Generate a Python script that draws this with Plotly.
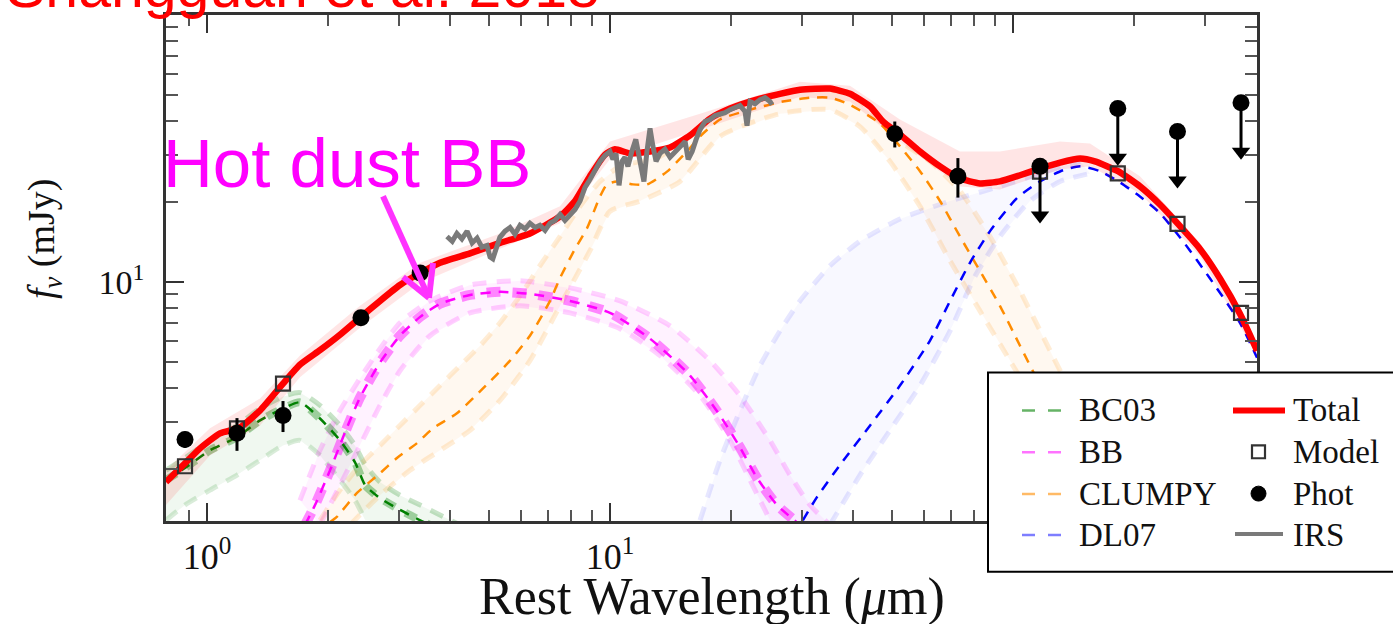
import plotly.graph_objects as go

# ---------------- data (wavelength in micron, flux density in mJy) ----------------
# Stellar component (BC03): best fit and spread of realizations
bc03_wl = [0.791, 0.882, 1.017, 1.187, 1.354, 1.544, 1.701, 1.907, 2.138, 2.33, 2.47, 2.687, 3.012, 3.38, 3.786]
bc03_f = [1.81, 2.01, 2.34, 2.62, 3.03, 3.36, 3.54, 3.08, 2.55, 2.11, 1.73, 1.55, 1.40, 1.28, 1.18]
bc03_hi_wl = [0.791, 0.882, 1.017, 1.187, 1.354, 1.544, 1.701, 1.907, 2.138, 2.33, 2.47, 2.687, 3.012, 3.38, 3.786, 4.245]
bc03_hi_f = [1.97, 2.19, 2.55, 2.90, 3.36, 3.72, 3.85, 3.45, 2.90, 2.44, 2.06, 1.78, 1.59, 1.46, 1.34, 1.23]
bc03_lo_wl = [0.791, 0.882, 1.017, 1.187, 1.354, 1.544, 1.701, 1.907, 2.138, 2.33, 2.47]
bc03_lo_f = [1.28, 1.46, 1.66, 1.89, 2.15, 2.44, 2.55, 2.24, 1.81, 1.52, 1.28]

# Hot dust blackbody (BB)
bb_wl = [1.751, 1.854, 2.020, 2.200, 2.397, 2.687, 3.012, 3.38, 3.786, 4.494, 5.334, 6.33,
         7.958, 10.0, 12.57, 15.80, 18.75, 21.02, 23.2, 25.97, 29.61]
bb_f = [1.23, 1.46, 1.97, 2.73, 3.69, 4.99, 6.29, 7.40, 8.28, 8.94, 9.18, 9.02,
        8.49, 7.66, 6.13, 4.46, 3.16, 2.40, 1.84, 1.46, 1.23]
bb_hi_wl = [1.701, 1.907, 2.138, 2.397, 2.687, 3.012, 3.575, 4.494, 5.98, 7.958, 10.59, 14.09,
            17.71, 21.02, 24.95, 27.97, 31.36, 35.15]
bb_hi_f = [1.52, 2.34, 3.30, 4.35, 5.62, 7.03, 8.49, 9.74, 10.1, 9.50, 8.49, 6.85,
           5.07, 3.75, 2.55, 1.89, 1.46, 1.23]
bb_lo_wl = [1.907, 2.138, 2.397, 2.687, 3.012, 3.575, 4.494, 5.98, 7.958, 10.59, 13.31, 16.73,
            19.86, 22.26, 24.95]
bb_lo_f = [1.23, 1.73, 2.44, 3.45, 4.65, 6.29, 7.66, 8.14, 7.66, 6.68, 5.30, 3.75,
           2.55, 1.81, 1.28]

# Clumpy torus (CLUMPY)
clumpy_wl = [2.020, 2.102, 2.356, 2.687, 2.96, 3.32, 3.64, 4.17, 4.84, 5.648, 6.33, 7.10, 7.516,
             8.19, 8.77, 9.447, 9.83, 10.41, 11.40, 12.36, 13.85, 15.52, 16.73, 18.75, 22.26,
             26.87, 31.36, 35.15, 39.4, 46.77, 52.43, 58.78, 65.9, 73.87, 82.8, 92.8, 104.1,
             116.7, 130.8]
clumpy_f = [1.26, 1.32, 1.62, 1.92, 2.19, 2.49, 2.83, 3.22, 3.99, 5.07, 6.29, 8.49, 10.35,
            13.3, 15.9, 20.9, 23.2, 23.8, 23.2, 23.2, 25.9, 30.8, 35.1, 40.6, 44.2,
            47.4, 49.0, 49.0, 46.1, 39.2, 32.2, 26.0, 20.1, 14.8, 11.0, 8.14, 5.77,
            4.09, 2.78]
clumpy_hi_wl = [1.907, 2.138, 2.397, 2.687, 3.012, 3.38, 3.786, 4.245, 4.759, 5.334, 5.98, 6.70,
                7.516, 8.426, 9.447, 10.59, 13.31, 16.73, 22.26, 29.61, 39.4, 52.43, 62.2,
                73.87, 87.7, 104.1, 123.6, 142.5]
clumpy_hi_f = [1.28, 1.66, 2.06, 2.44, 2.90, 3.45, 4.09, 4.86, 5.77, 7.03, 8.87, 11.5,
               14.8, 19.2, 23.8, 27.1, 29.5, 38.2, 47.4, 52.5, 50.7, 33.6, 28.3,
               21.9, 14.8, 9.26, 5.53, 3.60]
clumpy_lo_wl = [2.264, 2.687, 3.189, 3.786, 4.494, 5.334, 6.33, 7.516, 8.92, 10.0, 11.87, 14.92,
                18.75, 26.42, 35.15, 41.72, 49.5, 58.78, 69.8, 82.8, 98.3, 116.7]
clumpy_lo_f = [1.23, 1.59, 1.97, 2.34, 2.78, 3.60, 5.07, 8.14, 13.1, 18.4, 20.1, 23.8,
               35.1, 42.7, 44.2, 38.2, 28.3, 19.2, 12.0, 7.79, 5.07, 3.30]

# Cold dust (DL07)
dl07_wl = [30.1, 32.6, 37.2, 44.2, 52.43, 62.2, 69.8, 78.2, 87.7, 102.3, 116.7, 133.1, 146.7,
           164.4, 184.3, 206.6, 231.6, 264.2, 308.3, 365.8, 403.3]
dl07_f = [1.28, 1.56, 2.06, 2.90, 4.09, 6.02, 8.49, 11.8, 15.5, 20.6, 23.8, 26.2, 27.1,
          26.0, 23.6, 20.9, 18.1, 14.2, 10.3, 7.03, 5.20]
dl07_hi_wl = [16.73, 18.75, 21.02, 23.57, 26.42, 29.61, 35.15, 41.72, 52.43, 69.8, 92.8, 116.7, 146.7]
dl07_hi_f = [1.28, 2.15, 3.30, 4.86, 6.56, 8.49, 11.5, 14.2, 17.2, 20.1, 22.8, 25.5, 28.3]
dl07_lo_wl = [35.15, 41.72, 49.5, 58.78, 69.8, 80.5, 92.8, 110.2, 130.8, 155.3]
dl07_lo_f = [1.23, 1.89, 2.78, 4.09, 6.56, 10.5, 14.8, 20.1, 23.8, 25.5]

# Total model
total_wl = [0.791, 0.882, 0.961, 1.077, 1.207, 1.354, 1.544, 1.701, 1.907, 2.138, 2.397, 2.687,
            3.012, 3.38, 3.786, 4.494, 5.334, 6.33, 7.516, 8.19, 8.92, 9.72, 10.29, 11.21,
            12.57, 14.09, 15.80, 17.71, 19.86, 23.57, 29.61, 35.15, 39.4, 44.2, 47.6, 52.43,
            58.78, 65.9, 73.87, 82.8, 92.8, 104.1, 116.7, 130.8, 146.7, 159.7, 182.2, 206.6,
            231.6, 256.7, 291.1, 326.3, 365.8, 403.3]
total_f = [1.78, 2.09, 2.38, 2.71, 2.85, 3.30, 4.16, 4.90, 5.55, 6.34, 7.34, 8.49,
           9.74, 10.8, 11.8, 12.8, 14.0, 15.2, 17.6, 20.1, 24.9, 30.0, 31.4, 30.3,
           30.8, 31.9, 35.4, 40.9, 44.6, 48.6, 52.5, 53.0, 50.7, 45.4, 39.9, 35.7,
           30.8, 27.1, 24.4, 23.4, 23.8, 25.1, 26.6, 28.0, 29.0, 28.3, 26.0, 22.8,
           19.5, 16.5, 13.3, 10.3, 7.60, 5.53]
total_band_wl = [0.791, 1.017, 1.354, 1.701, 2.397, 3.38, 5.334, 7.516, 10.0, 16.73, 29.61, 39.4,
                 52.43, 73.87, 92.8, 130.8, 155.3, 206.6, 291.1, 403.3]
total_hi_f = [1.97, 2.83, 3.66, 5.30, 8.14, 11.8, 15.2, 19.2, 33.6, 42.7, 56.2, 54.3,
              40.6, 30.8, 30.8, 33.6, 33.0, 24.9, 14.0, 5.77]
total_lo_f = [1.46, 2.24, 2.90, 4.40, 6.73, 9.92, 13.3, 16.6, 28.8, 37.2, 49.4, 47.4,
              33.6, 22.8, 22.2, 26.4, 27.1, 21.5, 12.5, 5.30]

# Spitzer IRS spectrum
irs_wl = [3.94, 4.06, 4.17, 4.29, 4.42, 4.55, 4.68, 4.81, 4.95, 5.04, 5.12, 5.21, 5.33, 5.49,
          5.65, 5.81, 5.98, 6.16, 6.33, 6.52, 6.70, 6.90, 7.10, 7.30, 7.52, 7.73, 7.96, 8.19,
          8.43, 8.67, 8.92, 9.18, 9.45, 9.72, 10.0, 10.17, 10.35, 10.53, 10.71, 10.89, 11.08,
          11.33, 11.59, 11.87, 12.14, 12.35, 12.57, 12.78, 13.01, 13.31, 13.69, 14.09, 14.50,
          14.92, 15.36, 15.63, 15.99, 16.36, 16.73, 17.22, 17.71, 18.23, 18.75, 19.30, 19.86,
          20.43, 21.02, 21.63, 21.88, 22.26, 22.90, 23.57, 24.25, 24.95, 25.24]
irs_f = [14.8, 14.2, 15.2, 14.5, 15.5, 14.0, 14.6, 13.5, 13.7, 12.4, 12.2, 13.3, 14.7, 15.5,
         16.0, 15.1, 16.3, 15.8, 16.6, 16.0, 16.3, 15.6, 16.6, 17.0, 17.9, 17.0, 17.8, 18.7,
         20.1, 22.6, 24.2, 26.4, 28.3, 29.8, 30.8, 28.8, 30.3, 23.0, 28.3, 29.3, 27.1,
         30.8, 34.2, 28.3, 23.8, 30.8, 37.6, 32.2, 28.3, 30.3, 31.4, 29.3, 30.8,
         32.2, 33.6, 28.8, 30.8, 34.2, 37.2, 39.9, 40.6, 42.0, 42.4, 43.1, 44.2,
         45.0, 45.8, 43.5, 38.5, 47.4, 46.5, 48.2, 49.0, 47.4, 46.1]

# Model photometry (open squares)
model_wl = [0.882, 1.187, 1.544, 116.7, 182.0, 256.0, 368.0]
model_f = [2.04, 2.83, 4.16, 25.9, 25.5, 16.5, 7.66]

# Observed photometry (detections) with errors
phot_wl = [0.882, 1.187, 1.544, 2.41, 3.38, 50.9, 73.0]
phot_f = [2.57, 2.71, 3.16, 7.34, 10.8, 35.9, 24.9]
phot_err = [0.18, 0.38, 0.42, 0.30, 0.50, 4.0, 4.2]

# Upper limits
ul_wl = [116.7, 182.0, 256.0, 368.0]
ul_f = [27.1, 44.6, 36.6, 46.9]

x_tickvals = [1, 10, 100]
x_ticktext = ["10<sup>0</sup>", "10<sup>1</sup>", " "]
x_minor = [0.9, 2, 3, 4, 5, 6, 7, 8, 9, 20, 30, 40, 50, 60, 70, 80, 90, 200, 300]
y_tickvals = [10, 100]
y_ticktext = ["10<sup>1</sup>", " "]
y_minor = [2, 3, 4, 5, 6, 7, 8, 9, 20, 30, 40, 50, 60, 70, 80, 90]

# ---------------- layout geometry ----------------
W, H = 1393, 624
ML, MR, MT, MB = 166, 136, 13, 103
PW, PH = W - ML - MR, H - MT - MB
SERIF = "Liberation Serif, Times New Roman, serif"
SANS = "Liberation Sans, Arial, sans-serif"


def px(x):
    return (x - ML) / PW


def py(y):
    return (H - MB - y) / PH


fig = go.Figure()


def band(xh, yh, xl, yl, color):
    fig.add_trace(go.Scatter(x=list(xh) + list(xl)[::-1], y=list(yh) + list(yl)[::-1],
                             mode="lines", fill="toself", fillcolor=color,
                             line=dict(width=0), hoverinfo="skip", showlegend=False))


def dashed(x, y, color, width, dash):
    fig.add_trace(go.Scatter(x=x, y=y, mode="lines", showlegend=False, hoverinfo="skip",
                             line=dict(color=color, width=width, dash=dash, shape="spline",
                                       smoothing=0.6)))


# realization spreads
band(bc03_hi_wl, bc03_hi_f, bc03_lo_wl, bc03_lo_f, "rgba(0,128,0,0.06)")
band(bb_hi_wl, bb_hi_f, bb_lo_wl, bb_lo_f, "rgba(255,0,255,0.05)")
band(clumpy_hi_wl, clumpy_hi_f, clumpy_lo_wl, clumpy_lo_f, "rgba(255,140,0,0.06)")
band(dl07_hi_wl, dl07_hi_f, dl07_lo_wl, dl07_lo_f, "rgba(60,60,255,0.035)")

for xs, ys, c in [(bc03_hi_wl, bc03_hi_f, "rgba(0,128,0,0.22)"), (bc03_lo_wl, bc03_lo_f, "rgba(0,128,0,0.15)"),
                  (bb_hi_wl, bb_hi_f, "rgba(255,0,255,0.18)"), (bb_lo_wl, bb_lo_f, "rgba(255,0,255,0.18)"),
                  (clumpy_hi_wl, clumpy_hi_f, "rgba(255,140,0,0.16)"), (clumpy_lo_wl, clumpy_lo_f, "rgba(255,140,0,0.16)"),
                  (dl07_hi_wl, dl07_hi_f, "rgba(60,60,255,0.12)"), (dl07_lo_wl, dl07_lo_f, "rgba(60,60,255,0.12)")]:
    dashed(xs, ys, c, 5, "14px,10px")

# thick overlapping realizations of the hot dust and stellar components
dashed(bb_wl, bb_f, "rgba(255,0,255,0.45)", 10, "14px,12px")
dashed(bc03_wl, bc03_f, "rgba(0,128,0,0.35)", 8, "12px,12px")

# best-fit components
dashed(bc03_wl, bc03_f, "#008000", 2.5, "10px,8px")
dashed(bb_wl, bb_f, "#ff00ff", 2.5, "10px,8px")
dashed(clumpy_wl, clumpy_f, "#ff8c00", 2.5, "10px,8px")
dashed(dl07_wl, dl07_f, "#0000ff", 2.5, "10px,8px")

# total model with its spread
band(total_band_wl, total_hi_f, total_band_wl, total_lo_f, "rgba(255,0,0,0.10)")
fig.add_trace(go.Scatter(x=total_wl, y=total_f, mode="lines", showlegend=False,
                         line=dict(color="#ff0000", width=6.5, shape="spline", smoothing=0.5)))

# IRS spectrum
fig.add_trace(go.Scatter(x=irs_wl, y=irs_f, mode="lines", showlegend=False,
                         line=dict(color="#7a7a7a", width=5)))

# model photometry
fig.add_trace(go.Scatter(x=model_wl, y=model_f, mode="markers", showlegend=False,
                         marker=dict(symbol="square-open", size=14, color="#333333",
                                     line=dict(color="#333333", width=2.2))))

# detections
fig.add_trace(go.Scatter(x=phot_wl, y=phot_f, mode="markers", showlegend=False,
                         marker=dict(symbol="circle", size=17, color="black"),
                         error_y=dict(type="data", array=phot_err, color="black",
                                      thickness=3, width=0)))

# upper limits: dot, shaft and arrow head
ul_tip = [f * 0.655 for f in ul_f]
fig.add_trace(go.Scatter(x=ul_wl, y=ul_f, mode="markers", showlegend=False,
                         marker=dict(symbol="circle", size=17, color="black"),
                         error_y=dict(type="data", symmetric=False, array=[0] * len(ul_f),
                                      arrayminus=[f - t for f, t in zip(ul_f, ul_tip)],
                                      color="black", thickness=3, width=0)))
fig.add_trace(go.Scatter(x=ul_wl, y=ul_tip, mode="markers", showlegend=False,
                         marker=dict(symbol="triangle-down", size=16, color="black")))

# ---------------- legend drawn as a boxed panel ----------------
shapes = []
shapes.append(dict(type="rect", xref="paper", yref="paper", x0=px(988), x1=px(1400),
                   y0=py(572), y1=py(372), fillcolor="white",
                   line=dict(color="black", width=2), layer="above"))
leg_rows = [410, 452, 494, 535]
leg_left = [("BC03", "rgba(0,128,0,0.6)"), ("BB", "rgba(255,0,255,0.55)"),
            ("CLUMPY", "rgba(255,140,0,0.6)"), ("DL07", "rgba(40,40,255,0.6)")]
annotations = []
for (name, col), ry in zip(leg_left, leg_rows):
    shapes.append(dict(type="line", xref="paper", yref="paper", x0=px(1022), x1=px(1062),
                       y0=py(ry), y1=py(ry), line=dict(color=col, width=2.5, dash="13px,13px"),
                       layer="above"))
    annotations.append(dict(text=name, x=px(1077), y=py(ry), xref="paper", yref="paper",
                            xanchor="left", yanchor="middle", showarrow=False,
                            font=dict(family=SERIF, size=33, color="#111111")))
shapes.append(dict(type="line", xref="paper", yref="paper", x0=px(1233), x1=px(1285),
                   y0=py(410), y1=py(410), line=dict(color="#ff0000", width=6), layer="above"))
shapes.append(dict(type="rect", xref="paper", yref="paper", x0=px(1252), x1=px(1265),
                   y0=py(458), y1=py(445), line=dict(color="#333333", width=2.2), layer="above"))
shapes.append(dict(type="circle", xref="paper", yref="paper", x0=px(1251), x1=px(1266),
                   y0=py(501), y1=py(486), fillcolor="black", line=dict(color="black", width=1),
                   layer="above"))
shapes.append(dict(type="line", xref="paper", yref="paper", x0=px(1235), x1=px(1283),
                   y0=py(534), y1=py(534), line=dict(color="#7a7a7a", width=4), layer="above"))
for name, ry in zip(["Total", "Model", "Phot", "IRS"], leg_rows):
    annotations.append(dict(text=name, x=px(1291), y=py(ry), xref="paper", yref="paper",
                            xanchor="left", yanchor="middle", showarrow=False,
                            font=dict(family=SERIF, size=33, color="#111111")))

# arrow pointing at the hot dust bump
ARROW = "#ff33ff"
for (x0, y0, x1, y1) in [(383, 195, 429, 297), (403, 276, 429, 297), (433, 262, 429, 297)]:
    shapes.append(dict(type="line", xref="paper", yref="paper", x0=px(x0), y0=py(y0),
                       x1=px(x1), y1=py(y1), line=dict(color=ARROW, width=6), layer="above"))

annotations.append(dict(text="Hot dust BB", x=px(161), y=py(162), xref="paper", yref="paper",
                        xanchor="left", yanchor="middle", showarrow=False,
                        font=dict(family=SANS, size=69, color="#ff00ff")))
annotations.append(dict(text="Shangguan et al. 2018", x=px(4), y=py(-15), xref="paper",
                        yref="paper", xanchor="left", yanchor="middle", showarrow=False,
                        font=dict(family=SANS, size=59, color="#ff0000")))
annotations.append(dict(text="Rest Wavelength (<i>μ</i>m)", x=0.5, y=py(597), xref="paper",
                        yref="paper", xanchor="center", yanchor="middle", showarrow=False,
                        font=dict(family=SERIF, size=52, color="#111111")))
annotations.append(dict(text="<i>f</i><sub><i>ν</i></sub> (mJy)", x=px(44), y=py(238),
                        xref="paper", yref="paper", xanchor="center", yanchor="middle",
                        textangle=-90, showarrow=False,
                        font=dict(family=SERIF, size=38, color="#111111")))

axis_common = dict(type="log", showline=True, linecolor="#333333", linewidth=2.5,
                   mirror="allticks", ticks="inside", ticklen=18, tickwidth=2,
                   tickcolor="#333333", showgrid=False, zeroline=False)

fig.update_layout(
    width=W, height=H,
    margin=dict(l=ML, r=MR, t=MT, b=MB),
    paper_bgcolor="white", plot_bgcolor="white",
    showlegend=False,
    xaxis=dict(range=[-0.1017, 2.6055], tickvals=x_tickvals, ticktext=x_ticktext,
               tickfont=dict(family=SERIF, size=36, color="#111111"), ticklabelstandoff=2,
               minor=dict(ticks="inside", ticklen=11, tickwidth=1.6, tickcolor="#555555",
                          tickvals=x_minor, showgrid=False),
               **axis_common),
    yaxis=dict(range=[0.1045, 2.0], tickvals=y_tickvals, ticktext=y_ticktext,
               tickfont=dict(family=SERIF, size=34, color="#111111"), ticklabelstandoff=12,
               minor=dict(ticks="inside", ticklen=12, tickwidth=1.6, tickcolor="#555555",
                          tickvals=y_minor, showgrid=False),
               **axis_common),
    shapes=shapes,
    annotations=annotations,
)

fig.write_html("out.html")
